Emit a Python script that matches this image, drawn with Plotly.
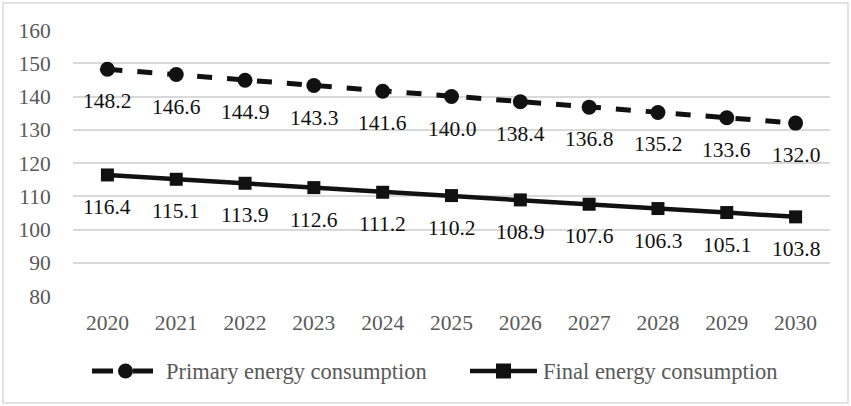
import plotly.graph_objects as go

years = [2020, 2021, 2022, 2023, 2024, 2025, 2026, 2027, 2028, 2029, 2030]
primary = [148.2, 146.6, 144.9, 143.3, 141.6, 140.0, 138.4, 136.8, 135.2, 133.6, 132.0]
final = [116.4, 115.1, 113.9, 112.6, 111.2, 110.2, 108.9, 107.6, 106.3, 105.1, 103.8]
y_ticks = [80, 90, 100, 110, 120, 130, 140, 150, 160]
series_names = ["Primary energy consumption", "Final energy consumption"]

FONT = "Liberation Serif"
FS = 21.5
LFS = 22.5
INK = "#111111"
GREY = "#595959"

# plot-area geometry in pixels (figure coordinates)
W, H = 851, 406
L, R, T, B = 73, 21, 30, 110
PW, PH = W - L - R, H - T - B


def px(x):
    return (x - L) / PW


def py(y):
    return (H - B - y) / PH


fig = go.Figure()
fig.add_trace(go.Scatter(
    x=years, y=primary, name=series_names[0], mode="lines+markers",
    line=dict(color=INK, width=5, dash="dash"),
    marker=dict(symbol="circle", size=15, color=INK),
))
fig.add_trace(go.Scatter(
    x=years, y=final, name=series_names[1], mode="lines+markers",
    line=dict(color=INK, width=4.5),
    marker=dict(symbol="square", size=13, color=INK),
))

annotations = []
for series in (primary, final):
    for xv, yv in zip(years, series):
        annotations.append(dict(
            x=xv, y=yv, xref="x", yref="y", text=f"{yv:.1f}", showarrow=False,
            yshift=-32, font=dict(family=FONT, size=FS, color=INK),
        ))

# custom legend (symbols drawn as shapes, labels as text)
LY = 371
annotations.append(dict(x=px(164), y=py(LY), xref="paper", yref="paper", text=series_names[0],
                        showarrow=False, xanchor="left", yanchor="middle",
                        font=dict(family=FONT, size=LFS, color=GREY)))
annotations.append(dict(x=px(541), y=py(LY), xref="paper", yref="paper", text=series_names[1],
                        showarrow=False, xanchor="left", yanchor="middle",
                        font=dict(family=FONT, size=LFS, color=GREY)))

shapes = [
    dict(type="rect", xref="paper", yref="paper", x0=px(3), x1=px(848), y0=py(403), y1=py(3),
         line=dict(color="#d9d9d9", width=1.5), layer="below"),
    dict(type="line", xref="paper", yref="paper", x0=px(92), x1=px(113), y0=py(LY), y1=py(LY),
         line=dict(color=INK, width=5)),
    dict(type="circle", xref="paper", yref="paper", x0=px(118), x1=px(133), y0=py(LY + 7.5), y1=py(LY - 7.5),
         line=dict(color=INK, width=0), fillcolor=INK),
    dict(type="line", xref="paper", yref="paper", x0=px(133), x1=px(153), y0=py(LY), y1=py(LY),
         line=dict(color=INK, width=5)),
    dict(type="line", xref="paper", yref="paper", x0=px(470), x1=px(537), y0=py(LY), y1=py(LY),
         line=dict(color=INK, width=4.5)),
    dict(type="rect", xref="paper", yref="paper", x0=px(496), x1=px(511), y0=py(LY + 7.5), y1=py(LY - 7.5),
         line=dict(color=INK, width=0), fillcolor=INK),
]

fig.update_layout(
    width=W, height=H, autosize=False, showlegend=False,
    margin=dict(l=L, r=R, t=T, b=B, autoexpand=False),
    paper_bgcolor="white", plot_bgcolor="white",
    font=dict(family=FONT, size=FS, color=GREY),
    xaxis=dict(type="linear", range=[years[0] - 0.5, years[-1] + 0.5], tickvals=years,
               showgrid=False, showline=False, zeroline=False,
               ticks="outside", ticklen=7, tickcolor="rgba(0,0,0,0)",
               tickfont=dict(family=FONT, size=FS, color=GREY)),
    yaxis=dict(type="linear", range=[80, 160], tickvals=y_ticks, showgrid=True, gridcolor="#d9d9d9",
               gridwidth=1.5, zeroline=False, showline=False,
               ticks="outside", ticklen=17, tickcolor="rgba(0,0,0,0)",
               tickfont=dict(family=FONT, size=FS, color=GREY)),
    annotations=annotations,
    shapes=shapes,
)

fig.write_html("out.html", config={"displayModeBar": False},
               post_script="document.body.style.margin='0px';")
